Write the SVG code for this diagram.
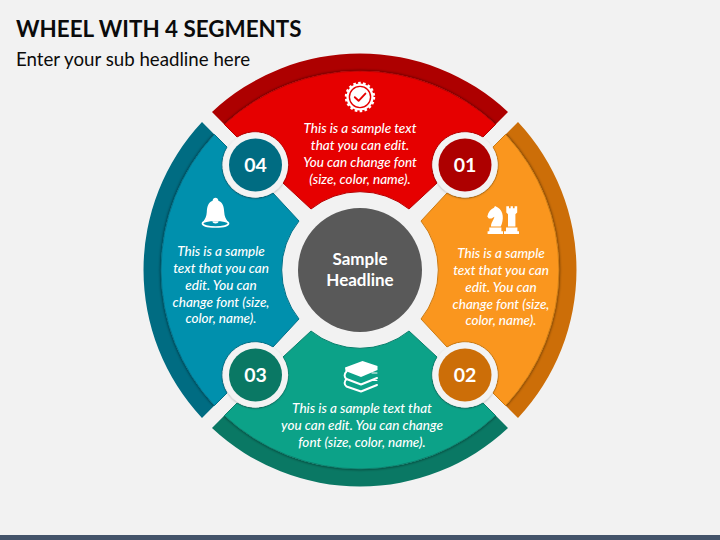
<svg xmlns="http://www.w3.org/2000/svg" xmlns:xlink="http://www.w3.org/1999/xlink" width="720" height="540" viewBox="0 0 720 540">
<style>
text{font-family:"Lato","Carlito","Liberation Sans",sans-serif;text-anchor:middle;fill:#fff}
.h{font-weight:700;font-size:22.4px;fill:#0b0b0b;text-anchor:start}
.s{font-size:18.7px;fill:#0b0b0b;text-anchor:start}
.t{font-style:italic;font-size:13.5px;font-weight:500}
.n{font-weight:700;font-size:19.5px}
.c{font-weight:700;font-size:17px}
.ring{fill:#f3f3f3}
.i{fill:#fff}
.o{fill:none;stroke:#fff;stroke-linecap:round;stroke-linejoin:round}
</style>
<defs>
<path id="band" d="M212,112A216.5 216.5 0 0 1 508,112L495.6,124.4A199 199 0 0 0 224.4,124.4Z"/>
<path id="front" d="M224.4,124.4A199 199 0 0 1 495.6,124.4L483,137A33.3 33.3 0 0 0 437,183L409,209A78 78 0 0 0 311,209L283,183A33.3 33.3 0 0 0 237,137Z" stroke-width="1"/>
<clipPath id="bc"><use xlink:href="#band"/></clipPath>
<filter id="blur" x="-10%" y="-10%" width="120%" height="120%"><feGaussianBlur stdDeviation="1.6"/></filter>
<g id="edge" clip-path="url(#bc)"><use xlink:href="#front" fill="#000" fill-opacity=".55" stroke="#000" stroke-opacity=".55" stroke-width="2" filter="url(#blur)"/></g>
<filter id="rs" x="-20%" y="-20%" width="140%" height="140%"><feDropShadow dx="0" dy="1" stdDeviation=".9" flood-color="#000" flood-opacity=".25"/></filter>
</defs>
<rect width="720" height="540" fill="#f2f2f2"/>
<rect y="535" width="720" height="5" fill="#44546a"/>
<text class="h" x="16" y="37">WHEEL WITH 4 SEGMENTS</text>
<text class="s" x="16" y="66">Enter your sub headline here</text>

<g id="segment-01">
<use xlink:href="#band" fill="#ad0000"/>
<use xlink:href="#edge"/>
<use xlink:href="#front" fill="#e60000" stroke="#b80000"/>
<g id="icon-rosette">
<circle cx="360" cy="97" r="13.6" class="i"/>
<circle cx="360" cy="97" r="14" fill="none" stroke="#fff" stroke-width="2.4" stroke-dasharray="2.6 2.3"/>
<circle cx="360" cy="97" r="10.6" fill="none" stroke="#e60000" stroke-width="1.4"/>
<path d="M354.8,97.2L358.6,100.8L365.4,93.6" fill="none" stroke="#e60000" stroke-width="1.9" stroke-linecap="round" stroke-linejoin="round"/>
</g>
<text class="t" x="360" y="133">This is a sample text</text>
<text class="t" x="360" y="150">that you can edit.</text>
<text class="t" x="360" y="167">You can change font</text>
<text class="t" x="360" y="184">(size, color, name).</text>
</g>

<g id="segment-02">
<g transform="rotate(90 360 270)">
<use xlink:href="#band" fill="#cc6e08"/>
<use xlink:href="#edge"/>
<use xlink:href="#front" fill="#fa961e" stroke="#cc7a10"/>
</g>
<g id="icon-chess" class="i">
<path d="M487.6,234V231.3H489.3V227.6H501.4V231.3H503V234ZM491,226.6C491,222.5 493.6,220.2 494.4,216.8L491.5,218.4L488.8,218.6L487.3,216.4C488.3,212 491,209 494,207.8L495,206L497.8,207.6C503.8,211 504,220 500.8,226.6Z"/>
<path d="M504,234V231.3H506V227.6H517.4V231.3H519V234ZM508,226.6V214.2L506.3,212.4V206.2H509V208.2H510.6V206.2H512.9V208.2H514.6V206.2H517.2V212.4L515.4,214.2V226.6Z"/>
</g>
<text class="t" x="501" y="258">This is a sample</text>
<text class="t" x="501" y="275">text that you can</text>
<text class="t" x="501" y="292">edit. You can</text>
<text class="t" x="501" y="309">change font (size,</text>
<text class="t" x="501" y="325">color, name).</text>
</g>

<g id="segment-03">
<g transform="rotate(180 360 270)">
<use xlink:href="#band" fill="#0a7864"/>
<use xlink:href="#edge"/>
<use xlink:href="#front" fill="#0ca288" stroke="#0a7f6c"/>
</g>
<g id="icon-books">
<path class="i" d="M345,367.5L362.5,361L377.5,366V370L361,377L345.5,371Z"/>
<path class="o" stroke-width="2" d="M346.5,371.5C344,374 344,377 346.5,379L361,384.5L377,378"/>
<path class="o" stroke-width="2" d="M346.5,379C344,381.5 344,384.5 346.5,386.5L361,391.5L377,385"/>
<path class="o" stroke-width="1" d="M372,373H377M372,380.5H377"/>
</g>
<text class="t" x="362" y="413">This is a sample text that</text>
<text class="t" x="362" y="430">you can edit. You can change</text>
<text class="t" x="362" y="447">font (size, color, name).</text>
</g>

<g id="segment-04">
<g transform="rotate(270 360 270)">
<use xlink:href="#band" fill="#006c82"/>
<use xlink:href="#edge"/>
<use xlink:href="#front" fill="#0090ad" stroke="#007088"/>
</g>
<g id="icon-bell">
<path class="i" d="M212.6,200.8C212.8,196.6 218.2,196.6 218.4,200.8C223,202.6 224,207.4 224.2,212C224.4,216.6 226,219 227.6,221.4C222,219.6 209,219.6 203.4,221.4C205,219 206.6,216.6 206.8,212C207,207.4 208,202.6 212.6,200.8Z"/>
<ellipse cx="215.5" cy="223.6" rx="13" ry="3.4" fill="none" stroke="#fff" stroke-width="1.7"/>
<path class="i" d="M212.4,221.2H218.6C218.4,224.2 212.6,224.2 212.4,221.2Z"/>
</g>
<text class="t" x="221" y="256">This is a sample</text>
<text class="t" x="221" y="273">text that you can</text>
<text class="t" x="221" y="290">edit. You can</text>
<text class="t" x="221" y="307">change font (size,</text>
<text class="t" x="221" y="323">color, name).</text>
</g>

<g id="center">
<circle cx="360" cy="270" r="62" fill="#595959"/>
<text class="c" x="360" y="265">Sample</text>
<text class="c" x="360" y="286">Headline</text>
</g>

<g id="badge-01"><circle class="ring" cx="465" cy="165" r="32.6" filter="url(#rs)"/><circle cx="465" cy="165" r="26.5" fill="#ad0000"/><text class="n" x="465" y="172">01</text></g>
<g id="badge-02"><circle class="ring" cx="465" cy="375" r="32.6" filter="url(#rs)"/><circle cx="465" cy="375" r="26.5" fill="#cc6e08"/><text class="n" x="465" y="382">02</text></g>
<g id="badge-03"><circle class="ring" cx="255.5" cy="375" r="32.6" filter="url(#rs)"/><circle cx="255.5" cy="375" r="26.5" fill="#0a7864"/><text class="n" x="255.5" y="382">03</text></g>
<g id="badge-04"><circle class="ring" cx="255.5" cy="165" r="32.6" filter="url(#rs)"/><circle cx="255.5" cy="165" r="26.5" fill="#006c82"/><text class="n" x="255.5" y="172">04</text></g>
</svg>
